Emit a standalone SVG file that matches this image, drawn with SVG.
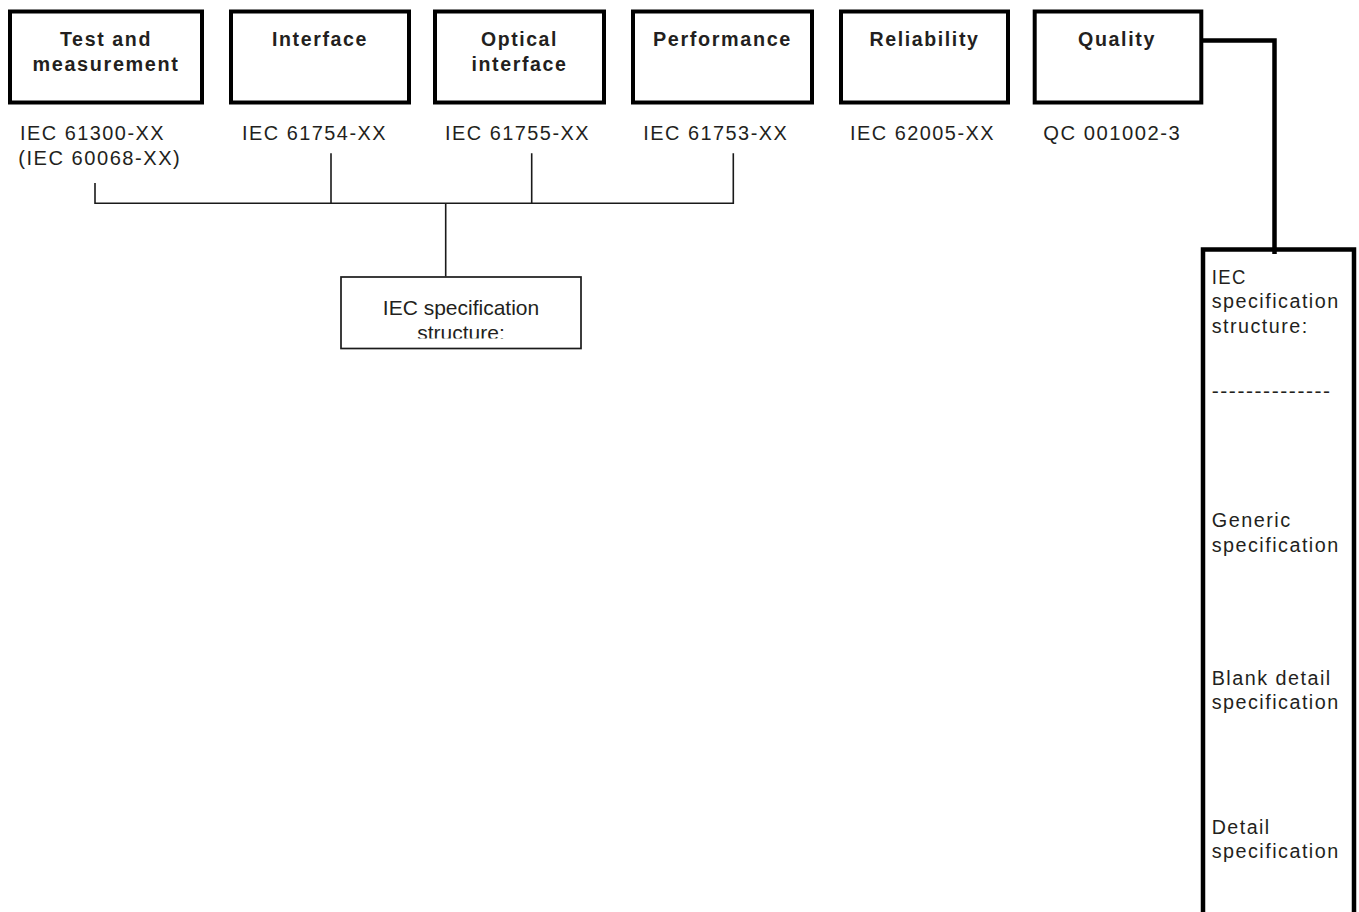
<svg xmlns="http://www.w3.org/2000/svg" width="1359" height="912" viewBox="0 0 1359 912">
<style>
.box{fill:#fff;stroke:#000;stroke-width:4}
.ttl{font-family:"Liberation Sans",Arial,sans-serif;font-size:19.5px;font-weight:bold;letter-spacing:1.6px;fill:#231f20;text-anchor:middle}
.sub{font-family:"Liberation Sans",Arial,sans-serif;font-size:20px;letter-spacing:1.5px;fill:#231f20}
.thin{fill:none;stroke:#1a1a1a;stroke-width:1.6}
.thick{fill:none;stroke:#000;stroke-width:4.5}
.spec{font-family:"Liberation Sans",Arial,sans-serif;font-size:21px;fill:#231f20;text-anchor:middle}
</style>
<defs>
<clipPath id="specClip"><rect x="340" y="276" width="242" height="62.5"/></clipPath>
</defs>
<rect width="1359" height="912" fill="#fff"/>
<g id="connectors">
<path class="thin" d="M95,183 V203.3 H733.3 V153.3 M331,153.3 V203.3 M531.7,153.3 V203.3 M445.7,203.3 V276.5"/>
<path class="thick" d="M1201,40.5 H1274.5 V254"/>
</g>
<g id="node-test">
<rect class="box" x="10" y="11.5" width="192" height="91"/>
<text class="ttl" x="106" y="45.5" textLength="92" lengthAdjust="spacingAndGlyphs">Test and</text>
<text class="ttl" x="106" y="70.5" textLength="147" lengthAdjust="spacingAndGlyphs">measurement</text>
<text class="sub" x="20" y="140.3" textLength="145" lengthAdjust="spacingAndGlyphs">IEC 61300-XX</text>
<text class="sub" x="18.3" y="165" textLength="163" lengthAdjust="spacingAndGlyphs">(IEC 60068-XX)</text>
</g>
<g id="node-interface">
<rect class="box" x="231" y="11.5" width="178" height="91"/>
<text class="ttl" x="320" y="45.5" textLength="96" lengthAdjust="spacingAndGlyphs">Interface</text>
<text class="sub" x="242" y="140.3" textLength="145" lengthAdjust="spacingAndGlyphs">IEC 61754-XX</text>
</g>
<g id="node-optical">
<rect class="box" x="435" y="11.5" width="169" height="91"/>
<text class="ttl" x="519.5" y="45.5" textLength="77" lengthAdjust="spacingAndGlyphs">Optical</text>
<text class="ttl" x="519.5" y="70.5" textLength="96" lengthAdjust="spacingAndGlyphs">interface</text>
<text class="sub" x="445" y="140.3" textLength="145" lengthAdjust="spacingAndGlyphs">IEC 61755-XX</text>
</g>
<g id="node-performance">
<rect class="box" x="633" y="11.5" width="179" height="91"/>
<text class="ttl" x="722.5" y="45.5" textLength="139" lengthAdjust="spacingAndGlyphs">Performance</text>
<text class="sub" x="643.3" y="140.3" textLength="145" lengthAdjust="spacingAndGlyphs">IEC 61753-XX</text>
</g>
<g id="node-reliability">
<rect class="box" x="841" y="11.5" width="167" height="91"/>
<text class="ttl" x="924.5" y="45.5" textLength="110" lengthAdjust="spacingAndGlyphs">Reliability</text>
<text class="sub" x="850" y="140.3" textLength="145" lengthAdjust="spacingAndGlyphs">IEC 62005-XX</text>
</g>
<g id="node-quality">
<rect class="box" x="1034.7" y="11.5" width="166.6" height="91"/>
<text class="ttl" x="1117" y="45.5" textLength="78" lengthAdjust="spacingAndGlyphs">Quality</text>
<text class="sub" x="1043.3" y="140.3" textLength="138" lengthAdjust="spacingAndGlyphs">QC 001002-3</text>
</g>
<g id="node-spec-structure">
<rect x="341" y="277" width="240" height="71.5" fill="#fff" stroke="#1a1a1a" stroke-width="1.7"/>
<g clip-path="url(#specClip)">
<text class="spec" x="461" y="315">IEC specification</text>
<text class="spec" x="461" y="339.5">structure:</text>
</g>
</g>
<g id="node-structure-column">
<path class="thick" d="M1203,920 V249.5 H1354 V920"/>
<text class="sub" x="1211.7" y="283.5" textLength="35" lengthAdjust="spacingAndGlyphs">IEC</text>
<text class="sub" x="1211.7" y="308" textLength="128" lengthAdjust="spacingAndGlyphs">specification</text>
<text class="sub" x="1211.7" y="332.5" textLength="97" lengthAdjust="spacingAndGlyphs">structure:</text>
<text class="sub" x="1211.7" y="397.5" textLength="120" lengthAdjust="spacingAndGlyphs">--------------</text>
<text class="sub" x="1211.7" y="527" textLength="80" lengthAdjust="spacingAndGlyphs">Generic</text>
<text class="sub" x="1211.7" y="551.5" textLength="128" lengthAdjust="spacingAndGlyphs">specification</text>
<text class="sub" x="1211.7" y="684.5" textLength="120" lengthAdjust="spacingAndGlyphs">Blank detail</text>
<text class="sub" x="1211.7" y="709" textLength="128" lengthAdjust="spacingAndGlyphs">specification</text>
<text class="sub" x="1211.7" y="833.5" textLength="59" lengthAdjust="spacingAndGlyphs">Detail</text>
<text class="sub" x="1211.7" y="858" textLength="128" lengthAdjust="spacingAndGlyphs">specification</text>
</g>
</svg>
